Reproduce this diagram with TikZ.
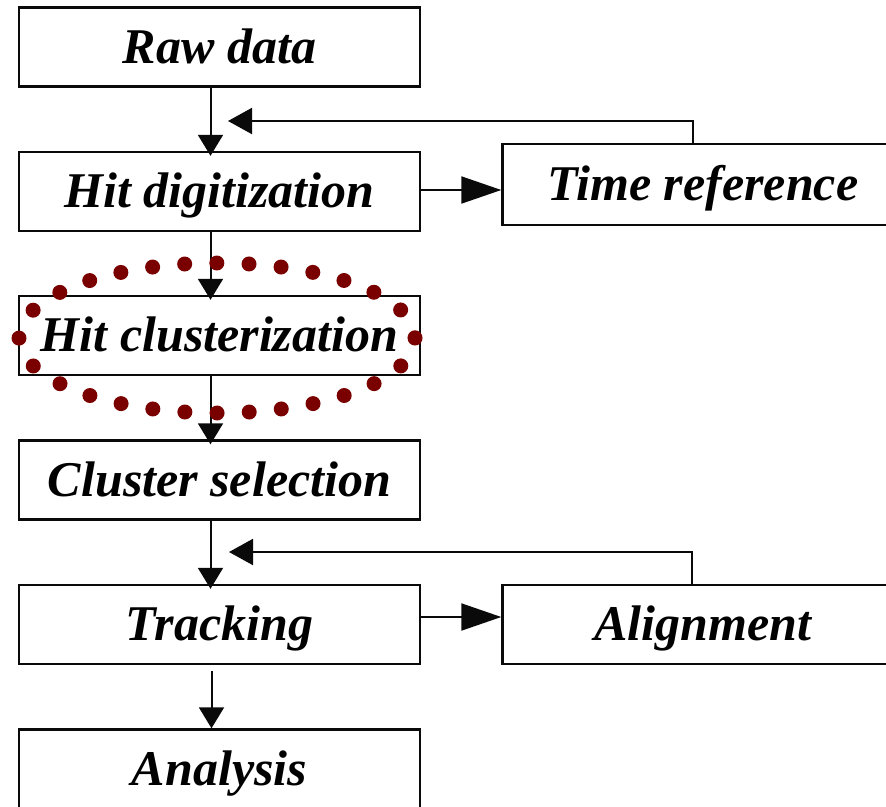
\documentclass[tikz,border=0pt]{standalone}
\usepackage{fontspec}
\setmainfont{Liberation Serif}
\usepackage{tikz}
\usetikzlibrary{arrows.meta,positioning}
\definecolor{ink}{RGB}{10,10,10}
\definecolor{dotred}{RGB}{122,0,0}

\begin{document}
\begin{tikzpicture}[x=1pt,y=-1pt,
    stage/.style={draw=ink,line width=2.4pt,minimum width=401pt,minimum height=79pt,
      inner sep=0pt,text height=40pt,text depth=8pt,
      font=\fontsize{50}{56}\selectfont\bfseries\itshape},
    flow/.style={draw=ink,line width=2pt,-{Triangle[length=21pt,width=25pt]}},
    side/.style={draw=ink,line width=2pt,-{Triangle[length=40pt,width=27pt]}},
    back/.style={draw=ink,line width=2pt,-{Triangle[length=24pt,width=26pt]}}]
  \useasboundingbox (0,0) rectangle (886,806);
  % main chain
  \node[stage] (raw) at (219.5,47) {Raw data};
  \node[stage] (dig) at (219.5,191.5) {Hit digitization};
  \node[stage] (clu) at (219.5,335.5) {Hit clusterization};
  \node[stage] (sel) at (219.5,480) {Cluster selection};
  \node[stage] (trk) at (219.5,624.5) {Tracking};
  \node[stage] (ana) at (219.5,769) {Analysis};
  % side boxes
  \node[stage,minimum height=81pt] (tref) at (703,184.5) {Time reference};
  \node[stage] (ali) at (703,624.5) {Alignment};
  \coordinate (fbtop) at (228,121);
  \coordinate (fbbot) at (229,552);

  \draw[flow] ([xshift=-9pt]raw.south) -- ([xshift=-9pt,yshift=-5pt]dig.north);
  \draw[flow] ([xshift=-9pt]dig.south) -- ([xshift=-9pt,yshift=-5pt]clu.north);
  \draw[flow] ([xshift=-9pt]clu.south) -- ([xshift=-9pt,yshift=-5pt]sel.north);
  \draw[flow] ([xshift=-9pt]sel.south) -- ([xshift=-9pt,yshift=-5pt]trk.north);
  \draw[flow] ([xshift=-8pt,yshift=-6pt]trk.south) -- ([xshift=-8pt]ana.north);
  \draw[side] ([yshift=1.5pt]dig.east) -- ([yshift=1.5pt]dig.east -| tref.west);
  \draw[side] ([yshift=7.5pt]trk.east) -- ([yshift=7.5pt]trk.east -| ali.west);
  \draw[back] ([xshift=-10pt]tref.north) |- (fbtop);
  \draw[back] ([xshift=-11pt]ali.north) |- (fbbot);

  % highlight
  \draw[dotred,line width=15pt,line cap=round,dash pattern=on 0pt off 32.2pt]
    (217,338) ellipse [x radius=198,y radius=75];
\end{tikzpicture}
\end{document}
